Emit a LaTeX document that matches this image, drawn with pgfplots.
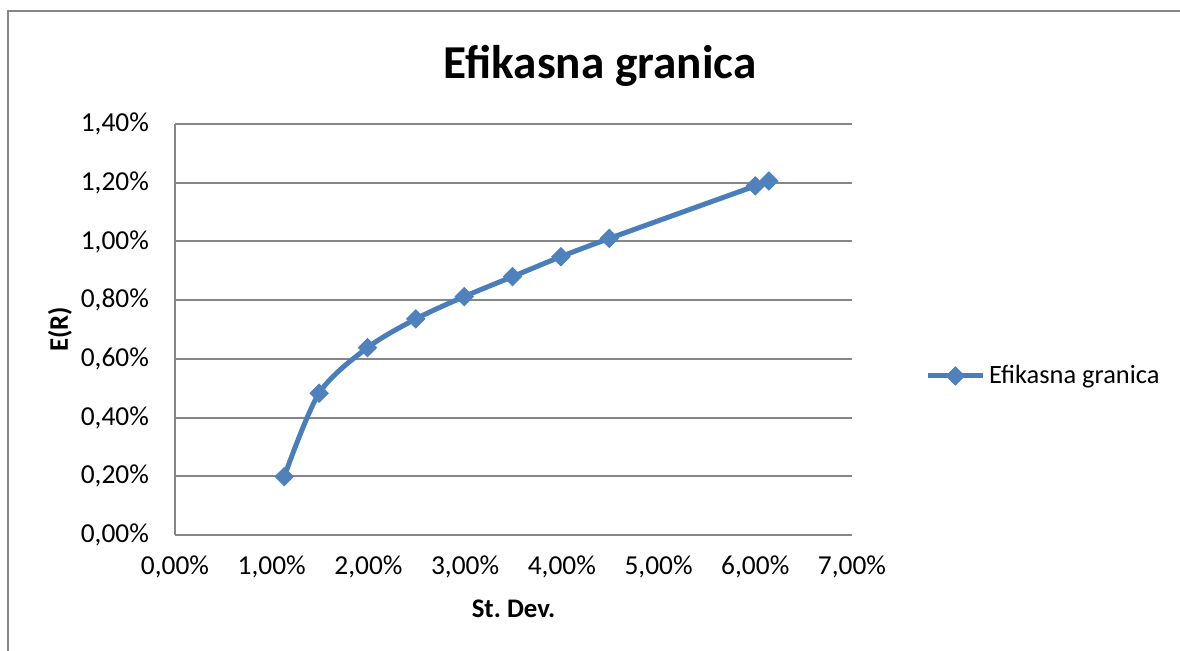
\documentclass[border=0pt]{standalone}
\usepackage{pgfplots}
\pgfplotsset{compat=1.18}
\usepackage{fontspec}
\setmainfont{Carlito}
\definecolor{gridgray}{RGB}{134,134,134}
\definecolor{xlblue}{RGB}{74,126,187}
\definecolor{xlmark}{RGB}{79,129,189}
\begin{document}
\begin{tikzpicture}
\path[use as bounding box] (0pt,0pt) rectangle (590pt,325.5pt);
\draw[gridgray,line width=1pt] (4pt,-2pt) -- (4pt,320pt) -- (592pt,320pt);
\node[font=\fontsize{23.6}{28}\selectfont\bfseries,anchor=base] at (300pt,286.3pt) {Efikasna granica};
\begin{axis}[
  at={(87.5pt,58pt)}, anchor=south west,
  scale only axis, width=338.5pt, height=205.5pt,
  xmin=0, xmax=7, ymin=0, ymax=1.4,
  xtick={0,1,2,3,4,5,6,7},
  ytick={0,0.2,0.4,0.6,0.8,1.0,1.2,1.4},
  axis lines*=left,
  axis line style={gridgray,line width=1pt},
  ymajorgrids,
  grid style={gridgray,line width=1pt},
  major tick length=0pt,
  /pgf/number format/assume math mode=true,
  tick label style={font=\fontsize{13.7}{16}\selectfont},
  xticklabel={\pgfmathprintnumber[fixed,fixed zerofill,precision=2,use comma]{\tick}\%},
  yticklabel={\pgfmathprintnumber[fixed,fixed zerofill,precision=2,use comma]{\tick}\%},
  xticklabel style={yshift=-7pt},
  yticklabel style={xshift=-9.5pt},
  xlabel={St.\ Dev.},
  ylabel={E(R)},
  label style={font=\fontsize{13.4}{16}\selectfont\bfseries},
  xlabel style={at={(axis description cs:0.5,-0.180)},anchor=center},
  ylabel style={at={(axis description cs:-0.170,0.5)},anchor=center,rotate=0},
  legend style={draw=none,fill=none,at={(axis description cs:1.108,0.387)},anchor=west,
    font=\fontsize{13.2}{16}\selectfont, inner xsep=0pt},
  legend cell align=left,
  legend image code/.code={\draw[mark repeat=2,mark phase=2,#1] plot coordinates {(0cm,0cm) (0.48cm,0cm) (0.96cm,0cm)};},
  clip=false,
]
\addplot[xlblue, line width=2.5pt, smooth, tension=0.5,
  mark=square*, mark size=3.2pt,
  mark options={rotate=45, fill=xlmark, draw=xlmark, line width=0.5pt}]
  coordinates {
  (1.13,0.199) (1.49,0.483) (1.99,0.638) (2.49,0.736) (2.99,0.812)
  (3.49,0.880) (3.99,0.948) (4.49,1.010) (6.00,1.189) (6.14,1.206)
  };
\addlegendentry{Efikasna granica}
\end{axis}
\end{tikzpicture}
\end{document}
